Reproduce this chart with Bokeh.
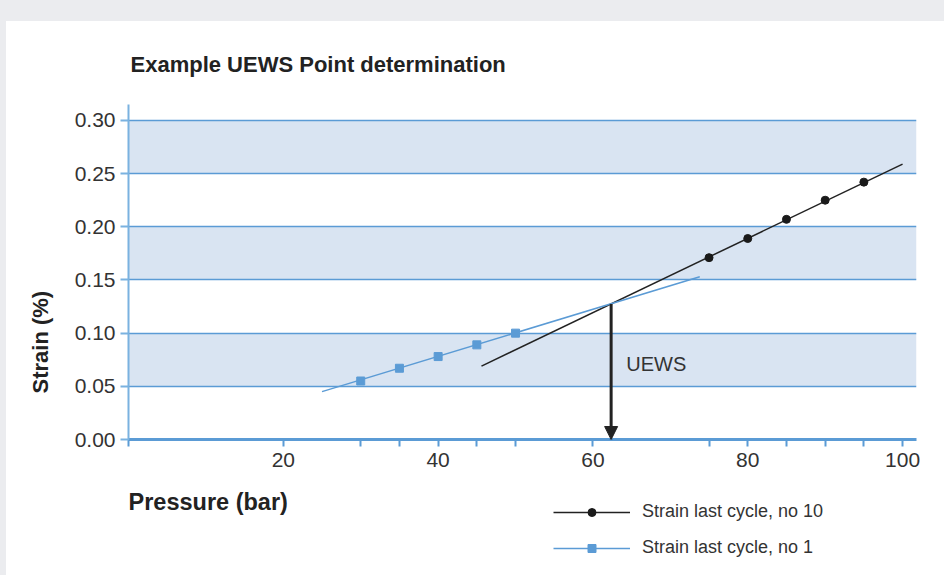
from bokeh.plotting import figure
from bokeh.layouts import column, row
from bokeh.models import (Range1d, FixedTicker, NumeralTickFormatter, Legend, LegendItem,
                          Arrow, NormalHead, Label, Title, Div)
from bokeh.embed import file_html
from bokeh.resources import INLINE

# ---- data ----
x_no10 = [75, 80, 85, 90, 95]
y_no10 = [0.171, 0.189, 0.207, 0.225, 0.242]
trend_no10_x = [45.6, 100.0]
trend_no10_y = [0.069, 0.259]

x_no1 = [30, 35, 40, 45, 50]
y_no1 = [0.055, 0.067, 0.078, 0.089, 0.100]
trend_no1_x = [25.0, 73.8]
trend_no1_y = [0.045, 0.153]

uews_x = 62.35
uews_y = 0.1275

y_ticks = [0.0, 0.05, 0.10, 0.15, 0.20, 0.25, 0.30]
x_major_ticks = [20, 40, 60, 80, 100]
x_minor_ticks = [0, 30, 35, 45, 50, 75, 85, 90, 95]

label_no10 = "Strain last cycle, no 10"
label_no1 = "Strain last cycle, no 1"

FONT = "Liberation Sans"
BLUE = "#5b9bd5"
DARK = "#222222"
PAGE_GRAY = "#ebecef"

top_band = Div(text="", width=944, height=21, margin=(0, 0, 0, 0),
               styles={"background-color": PAGE_GRAY})
left_band = Div(text="", width=6, height=554, margin=(0, 0, 0, 0),
                styles={"background-color": PAGE_GRAY})

p = figure(width=938, height=459, output_backend="svg", toolbar_location=None,
           x_range=Range1d(0, 101.8), y_range=Range1d(0, 0.315),
           min_border_left=122, min_border_right=28, min_border_top=83, min_border_bottom=41,
           title="Example UEWS Point determination", margin=(0, 0, 0, 0))
p.outline_line_color = None
p.background_fill_color = "white"
p.border_fill_color = "white"

p.title.text_font = FONT
p.title.text_font_size = "22px"
p.title.text_font_style = "bold"
p.title.text_color = DARK
p.title.align = "left"
p.title.offset = 2
p.title.standoff = 56

# grid with alternating bands
p.xgrid.visible = False
p.ygrid.ticker = FixedTicker(ticks=y_ticks)
p.ygrid.grid_line_color = BLUE
p.ygrid.grid_line_width = 1.5
p.ygrid.band_fill_color = "#d9e4f2"
p.ygrid.band_fill_alpha = 1.0

# y axis
ya = p.yaxis[0]
ya.ticker = FixedTicker(ticks=y_ticks)
ya.formatter = NumeralTickFormatter(format="0.00")
ya.axis_line_color = "#7ab2e0"
ya.axis_line_width = 2
ya.major_tick_line_color = "#7ab2e0"
ya.major_tick_line_width = 2
ya.major_tick_out = 8
ya.major_tick_in = 0
ya.minor_tick_line_color = None
ya.major_label_text_font = FONT
ya.major_label_text_font_size = "21px"
ya.major_label_text_color = "#333333"
ya.major_label_standoff = 5

# x axis
xa = p.xaxis[0]
xa.ticker = FixedTicker(ticks=x_major_ticks, minor_ticks=x_minor_ticks)
xa.axis_line_color = BLUE
xa.axis_line_width = 3
xa.major_tick_line_color = BLUE
xa.major_tick_line_width = 2
xa.major_tick_out = 7
xa.major_tick_in = 0
xa.minor_tick_line_color = BLUE
xa.minor_tick_line_width = 2
xa.minor_tick_out = 7
xa.minor_tick_in = 0
xa.major_label_text_font = FONT
xa.major_label_text_font_size = "21px"
xa.major_label_text_color = "#333333"
xa.major_label_standoff = 6

# y axis title, set at the lower part of the axis as in the reference
y_title = Title(text="Strain (%)", align="left", offset=46, standoff=38,
                text_font=FONT, text_font_size="22px", text_font_style="bold", text_color=DARK)
p.add_layout(y_title, "left")

# series
r10_line = p.line(trend_no10_x, trend_no10_y, line_color=DARK, line_width=1.5)
r10_pts = p.scatter(x_no10, y_no10, marker="circle", size=8, fill_color="#1a1a1a", line_color="#1a1a1a")
r1_line = p.line(trend_no1_x, trend_no1_y, line_color=BLUE, line_width=1.5)
r1_pts = p.scatter(x_no1, y_no1, marker="square", size=8, fill_color=BLUE, line_color=BLUE)

# UEWS arrow
p.add_layout(Arrow(x_start=uews_x, y_start=uews_y, x_end=uews_x, y_end=0,
                   line_color=DARK, line_width=3,
                   end=NormalHead(size=13, fill_color=DARK, line_color=DARK)))
p.add_layout(Label(x=64.3, y=0.071, text="UEWS", text_baseline="middle",
                   text_font=FONT, text_font_size="20px", text_color="#333333"))

# ---- lower strip: x axis title and legend (frame aligned with the plot above) ----
p2 = figure(width=938, height=95, output_backend="svg", toolbar_location=None,
            x_range=Range1d(128, 916), y_range=Range1d(95, 0),
            x_axis_type=None, y_axis_type=None,
            min_border_left=122, min_border_right=28, min_border_top=0, min_border_bottom=0,
            margin=(0, 0, 0, 0))
p2.outline_line_color = None
p2.xgrid.visible = False
p2.ygrid.visible = False
p2.background_fill_color = "white"
p2.border_fill_color = "white"

p2.add_layout(Label(x=128, y=21, text="Pressure (bar)", text_baseline="alphabetic",
                    text_font=FONT, text_font_size="23.5px", text_font_style="bold", text_color=DARK))

# legend proxies: same series, hidden in this strip, used only for the legend swatches
l10_line = p2.line(trend_no10_x, trend_no10_y, line_color=DARK, line_width=1.5, visible=False)
l10_pts = p2.scatter(x_no10, y_no10, marker="circle", size=8, fill_color="#1a1a1a",
                     line_color="#1a1a1a", visible=False)
l1_line = p2.line(trend_no1_x, trend_no1_y, line_color=BLUE, line_width=1.5, visible=False)
l1_pts = p2.scatter(x_no1, y_no1, marker="square", size=8, fill_color=BLUE, line_color=BLUE,
                    visible=False)

legend = Legend(items=[LegendItem(label=label_no10, renderers=[l10_line, l10_pts]),
                       LegendItem(label=label_no1, renderers=[l1_line, l1_pts])],
                location=(425, 17), orientation="vertical",
                glyph_width=77, glyph_height=20, label_height=20, spacing=15,
                label_standoff=12, padding=0, margin=0,
                border_line_color=None, background_fill_alpha=0, inactive_fill_alpha=0,
                label_text_font=FONT, label_text_font_size="18px", label_text_color="#333333")
p2.add_layout(legend, "center")

layout = column(top_band, row(left_band, column(p, p2, spacing=0), spacing=0), spacing=0)
open("out.html", "w").write(file_html(layout, INLINE))
